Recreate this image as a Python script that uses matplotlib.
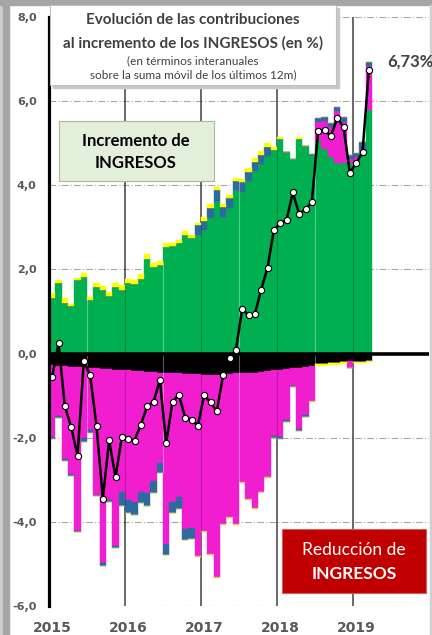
import matplotlib.pyplot as plt
from matplotlib.patches import Rectangle
import numpy as np

W, H = 432, 635

# monthly values, Jan 2015 .. Mar 2019 (51 months), contributions in %
green_pos = [1.33, 1.67, 1.21, 1.13, 1.76, 1.81, 1.28, 1.58, 1.51, 1.38,
             1.59, 1.51, 1.67, 1.66, 1.77, 2.25, 2.06, 2.10, 2.54, 2.56,
             2.62, 2.83, 2.75, 2.81, 2.93, 3.22, 3.62, 3.24, 3.47, 3.88,
             3.85, 4.10, 4.33, 4.50, 4.70, 4.84, 5.09, 4.79, 4.62, 5.10,
             4.94, 4.71, 5.06, 4.87, 4.67, 4.52, 4.52, 4.52, 4.48, 4.79, 5.79]
magenta_pos = [0, 0, 0, 0, 0, 0, 0, 0, 0, 0,
               0, 0, 0, 0, 0, 0, 0, 0, 0, 0,
               0, 0, 0, 0, 0, 0, 0, 0, 0, 0,
               0, 0, 0, 0, 0, 0, 0, 0, 0, 0,
               0, 0, 0.45, 0.65, 0.72, 1.24, 0.99, 0.10, 0.20, 0.08, 1.04]
blue_pos = [0, 0, 0, 0, 0, 0, 0, 0, 0, 0,
            0, 0, 0, 0, 0, 0, 0, 0, 0, 0,
            0, 0, 0, 0.24, 0.23, 0.24, 0.26, 0.24, 0.22, 0.22,
            0.22, 0.22, 0.23, 0.23, 0.21, 0, 0, 0, 0, 0,
            0, 0.04, 0.10, 0.11, 0.09, 0.11, 0.12, 0.10, 0.08, 0.15, 0.09]
yellow_pos = [0.12, 0.09, 0.11, 0.04, 0.04, 0.10, 0.07, 0.09, 0.09, 0.09,
              0.08, 0.11, 0.11, 0.10, 0.11, 0.12, 0.09, 0.10, 0.10, 0.06,
              0.07, 0.08, 0.08, 0.06, 0.08, 0.10, 0.07, 0.08, 0.09, 0.07,
              0.07, 0.08, 0.08, 0.09, 0.09, 0.07, 0.05, 0, 0.01, 0.04,
              0, 0, 0, 0, 0, 0, 0, 0, 0, 0, 0]

black_neg = [-0.28, -0.29, -0.30, -0.31, -0.32, -0.33, -0.34, -0.35, -0.36, -0.37,
             -0.38, -0.39, -0.40, -0.41, -0.42, -0.43, -0.44, -0.45, -0.46, -0.47,
             -0.47, -0.48, -0.49, -0.49, -0.50, -0.51, -0.51, -0.50, -0.48, -0.47,
             -0.46, -0.46, -0.45, -0.44, -0.42, -0.40, -0.38, -0.36, -0.35, -0.34,
             -0.32, -0.30, -0.25, -0.24, -0.23, -0.22, -0.20, -0.17, -0.20, -0.19, -0.17]
magenta_neg = [-1.71, -1.19, -2.21, -2.55, -3.89, -1.68, -1.48, -3.01, -4.62, -3.10,
               -4.19, -2.90, -3.09, -3.12, -2.87, -2.89, -2.58, -2.15, -4.06, -3.05,
               -2.94, -3.69, -3.65, -4.32, -3.72, -4.25, -4.81, -3.56, -3.41, -3.58,
               -2.60, -3.00, -3.23, -2.84, -2.52, -1.56, -1.60, -1.22, -0.41, -1.45,
               -1.15, -0.82, 0, 0, 0, 0, 0, -0.17, 0, 0, 0]
blue_neg = [-0.04, -0.05, -0.05, -0.04, -0.04, -0.08, -0.06, -0.02, -0.08, -0.05,
            -0.06, -0.33, -0.30, -0.31, -0.27, -0.31, -0.30, -0.24, -0.27, -0.27,
            -0.29, -0.26, -0.27, 0, 0, 0, 0, 0, 0, 0,
            0, 0, 0, 0, 0, -0.04, -0.05, -0.04, -0.04, -0.04,
            -0.04, 0, 0, 0, 0, 0, 0, 0, 0, 0, 0]
orange_neg = [0, 0, 0, 0, 0, 0, 0, 0, 0, 0,
              0, 0, 0, 0, 0, 0, 0, 0, 0, 0,
              0, 0, 0, -0.02, -0.02, -0.02, -0.02, -0.02, -0.02, -0.02,
              -0.02, -0.02, -0.02, -0.02, -0.02, 0, 0, 0, 0, 0,
              0, -0.02, 0, 0, 0, 0, 0, 0, 0, 0, 0]
yellow_neg = [0, 0, 0, 0, 0, 0, 0, 0, 0, 0,
              0, 0, 0, 0, 0, 0, 0, 0, 0, 0,
              0, 0, 0, 0, 0, 0, 0, 0, 0, 0,
              0, 0, 0, 0, 0, 0, 0, 0, 0, 0,
              0, 0, -0.05, -0.05, -0.05, -0.05, -0.05, 0, -0.03, -0.03, -0.02]

net_total = [-0.55, 0.24, -1.25, -1.74, -2.43, -0.18, -0.52, -1.72, -3.45, -2.06,
             -2.94, -1.98, -2.03, -2.07, -1.69, -1.25, -1.15, -0.63, -2.13, -1.15,
             -0.98, -1.52, -1.57, -1.71, -0.99, -1.16, -1.37, -0.50, -0.10, 0.08,
             1.06, 0.91, 0.94, 1.52, 2.04, 2.93, 3.10, 3.17, 3.83, 3.32,
             3.43, 3.60, 5.29, 5.32, 5.17, 5.59, 5.39, 4.30, 4.52, 4.79, 6.73]

year_labels = ['2015', '2016', '2017', '2018', '2019']
year_starts = [0, 12, 24, 36, 48]
y_ticks = [-6, -4, -2, 0, 2, 4, 6, 8]

GREEN = '#00B050'
MAGENTA = '#F01ECF'
BLUE = '#2C6AA0'
YELLOW = '#FFFF00'
ORANGE = '#F4B183'
GRAY_TXT = '#595959'
TITLE_FONT = ['Lato', 'DejaVu Sans']

fig = plt.figure(figsize=(W / 100, H / 100), dpi=100)
fig.patch.set_facecolor('white')
ax = fig.add_axes([49 / W, 1 - 606 / H, (429 - 49) / W, (606 - 17) / H])

x = np.arange(len(green_pos)) + 0.5

# positive stack
bottom = np.zeros(len(x))
for vals, col in [(green_pos, GREEN), (magenta_pos, MAGENTA), (blue_pos, BLUE), (yellow_pos, YELLOW)]:
    v = np.array(vals)
    ax.bar(x, v, width=1.0, bottom=bottom, color=col, edgecolor=col, linewidth=0.3, zorder=2)
    bottom = bottom + v
pos_total = bottom

# negative stack
bottom = np.zeros(len(x))
for vals, col in [(black_neg, 'black'), (magenta_neg, MAGENTA), (blue_neg, BLUE),
                  (orange_neg, ORANGE), (yellow_neg, YELLOW)]:
    v = np.array(vals)
    ax.bar(x, v, width=1.0, bottom=bottom, color=col, edgecolor=col, linewidth=0.3, zorder=2)
    bottom = bottom + v
neg_total = bottom

# faint separators seen inside the bars
for xb in [6, 18, 30, 42]:
    top = min(pos_total[xb - 1], pos_total[xb])
    bot = max(neg_total[xb - 1], neg_total[xb])
    ax.vlines(xb, bot, top, color='white', alpha=0.35, lw=0.8, zorder=3)
for xb in [12, 24, 36, 48]:
    top = min(pos_total[xb - 1], pos_total[xb])
    bot = max(neg_total[xb - 1], neg_total[xb])
    ax.vlines(xb, bot, top, color='black', alpha=0.2, lw=0.8, zorder=3)

# grid
for yv in y_ticks:
    if yv != 0:
        ax.axhline(yv, color='#A6A6A6', lw=0.8, ls=(0, (6, 2, 1, 2)), zorder=0.5)
for xs in year_starts[1:]:
    ax.axvline(xs, color='#404040', lw=1.1, zorder=0.5)
ax.axhline(0, color='black', lw=2.6, zorder=4)

# net line
ax.plot(x, net_total, color='black', lw=1.8, marker='o', ms=4.5,
        mfc='white', mec='black', mew=0.8, zorder=5)

ax.set_xlim(0, 60)
ax.set_ylim(-6, 8)
ax.set_yticks(y_ticks)
ax.set_yticklabels([f'{v:.1f}'.replace('.', ',') for v in y_ticks])
ax.set_xticks([s + 0.5 for s in year_starts])
ax.set_xticklabels(year_labels)
ax.tick_params(axis='y', length=0, pad=9, labelsize=8, labelcolor=GRAY_TXT)
ax.tick_params(axis='x', length=0, pad=11, labelsize=10, labelcolor=GRAY_TXT)
for lab in ax.get_xticklabels() + ax.get_yticklabels():
    lab.set_fontweight('bold')
for s in ['top', 'right', 'bottom']:
    ax.spines[s].set_visible(False)
ax.spines['left'].set_color('black')
ax.spines['left'].set_linewidth(2.3)
ax.spines['left'].set_zorder(6)


def fx(px):
    return px / W


def fy(py):
    return 1 - py / H


# outer frame bits
fig.add_artist(Rectangle((0, 0), fx(3), 1, transform=fig.transFigure, color='#D0D0D0', zorder=10))
fig.add_artist(Rectangle((fx(3), 0), fx(6), 1, transform=fig.transFigure, color='#A6A6A6', zorder=10))
fig.add_artist(Rectangle((0, fy(5)), 1, 5 / H, transform=fig.transFigure, color='#A6A6A6', zorder=10))
fig.add_artist(Rectangle((fx(430), 0), fx(2), fy(5), transform=fig.transFigure, color='#D0D0D0', zorder=10))

# title box
fig.add_artist(Rectangle((fx(53), fy(88)), fx(286), 80 / H, transform=fig.transFigure,
                         color='#C8C8C8', zorder=10))
fig.add_artist(Rectangle((fx(50), fy(85)), fx(286), 80 / H, transform=fig.transFigure,
                         facecolor='white', edgecolor='#BFBFBF', lw=0.8, zorder=11))
fig.text(fx(193), fy(20), 'Evolución de las contribuciones', ha='center', va='center',
         fontsize=11, fontweight='bold', color='#404040', family=TITLE_FONT, zorder=12)
fig.text(fx(193), fy(43), 'al incremento de los INGRESOS (en %)', ha='center', va='center',
         fontsize=11, fontweight='bold', color='#404040', family=TITLE_FONT, zorder=12)
fig.text(fx(193), fy(61), '(en términos interanuales', ha='center', va='center',
         fontsize=8.5, color='#404040', family=TITLE_FONT, zorder=12)
fig.text(fx(193), fy(75), 'sobre la suma móvil de los últimos 12m)', ha='center', va='center',
         fontsize=8.5, color='#404040', family=TITLE_FONT, zorder=12)

fig.text(fx(410), fy(62), '6,73%', ha='center', va='center', fontsize=12,
         fontweight='bold', color='#404040', family=TITLE_FONT, zorder=12)

# green box
fig.add_artist(Rectangle((fx(59), fy(181)), fx(155), 60 / H, transform=fig.transFigure,
                         facecolor='#E2EFDA', edgecolor='#A9B8A0', lw=0.8, zorder=11))
fig.text(fx(136), fy(141), 'Incremento de', ha='center', va='center', fontsize=12,
         fontweight='bold', color='black', family=TITLE_FONT, zorder=12)
fig.text(fx(136), fy(163), 'INGRESOS', ha='center', va='center', fontsize=12,
         fontweight='bold', color='black', family=TITLE_FONT, zorder=12)

# red box
fig.add_artist(Rectangle((fx(282), fy(593)), fx(144), 64 / H, transform=fig.transFigure,
                         facecolor='#C00000', edgecolor='#D06060', lw=0.8, zorder=11))
fig.text(fx(354), fy(550), 'Reducción de', ha='center', va='center', fontsize=12.5,
         color='white', family=TITLE_FONT, zorder=12)
fig.text(fx(354), fy(574), 'INGRESOS', ha='center', va='center', fontsize=12.5,
         fontweight='bold', color='white', family=TITLE_FONT, zorder=12)

fig.savefig('out.png', dpi=100)
